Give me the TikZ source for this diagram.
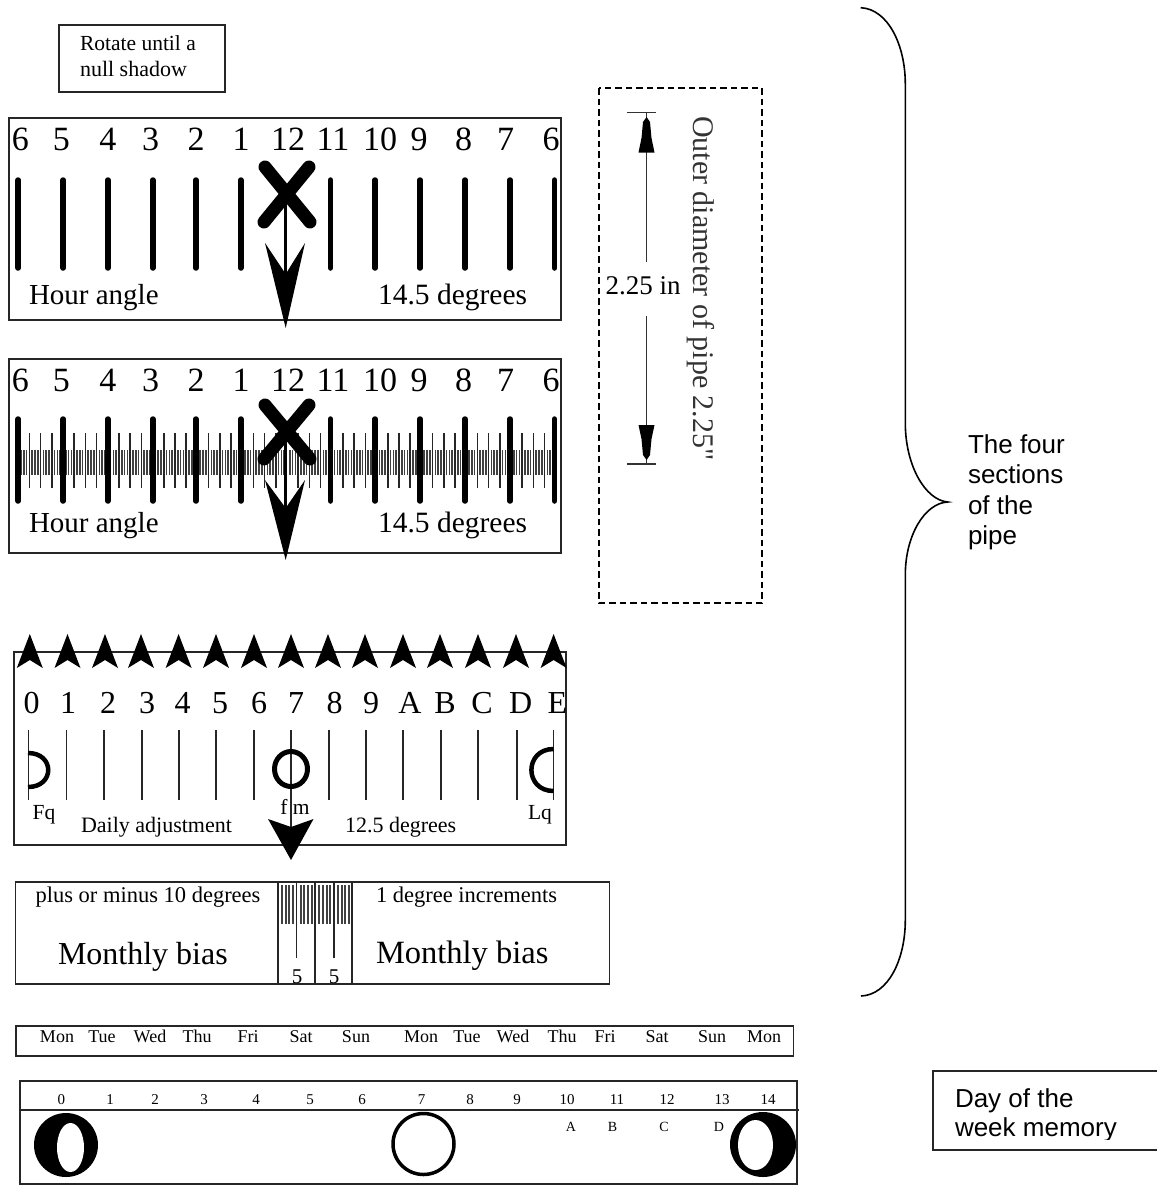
\documentclass[tikz,border=0pt]{standalone}
\usepackage{fontspec}
\setmainfont{Liberation Serif}
\newfontfamily\arialf{Liberation Sans}
\newfontfamily\rawserif{Liberation Serif}
\newcommand{\fz}[1]{\fontsize{#1}{#1}\selectfont}
\tikzset{
  txt/.style={inner sep=0pt,outer sep=0pt,anchor=base},
  ltxt/.style={inner sep=0pt,outer sep=0pt,anchor=base west},
  frame/.style={draw=black!85,line width=1.5pt},
  major/.style={draw=black,line width=5.5pt,line cap=round},
  medium/.style={draw=black!85,line width=1.5pt},
  small/.style={draw=black!75,line width=1.5pt},
  thin tick/.style={draw=black!85,line width=1.4pt},
  solid mark/.style={fill=black,draw=none},
  cross/.style={draw=black,line width=13pt,line cap=round},
  shaft/.style={draw=black,line width=2.5pt},
  moonline/.style={draw=black,line width=4.5pt},
}
\begin{document}
\begin{tikzpicture}[x=1pt,y=-1pt]
\useasboundingbox (0,0) rectangle (1157,1186);
% note box
\draw[frame,line width=1.2pt] (59,25) rectangle (225,92);
\node[ltxt] (rot1) at (80,50) {\fz{21.5}Rotate until a};
\node[ltxt] (rot2) at (80,76) {\fz{22}null shadow};
% hour scale 1
\draw[frame] (9,118) rectangle (561,320);
\foreach \x in {18.2,63.2,107.8,152.8,195.9,240.9,330.5,375,420,465,510,554.6}
  \draw[major] (\x,180) -- (\x,268);
\foreach \x/\t [count=\i] in {20.4/6,61.3/5,107.8/4,150.6/3,196/2,241/1,288/12,333/11,380/10,419/9,463.6/8,505.6/7,551/6}
  \node[txt] (ha\i) at (\x,150) {\fz{34}\t};
\node[ltxt] (hal) at (29,304) {\fz{29}Hour angle};
\node[ltxt] (had) at (378,304) {\fz{29.5}14.5 degrees};
\draw[cross] (265,167) -- (310,222);
\draw[cross] (309,167) -- (264,222);
\draw[shaft] (285.5,200) -- (285.5,300);
\path[solid mark] (265,243) -- (285.7,328) -- (305,243) -- (285.7,274) -- cycle;
% hour scale 2
\draw[frame] (9,359) rectangle (561,553);
\foreach \i in {0,...,191}{
  \pgfmathsetmacro{\xx}{18.2+2.8*\i}
  \pgfmathtruncatemacro{\m}{mod(\i,4)}
  \pgfmathtruncatemacro{\h}{mod(\i,16)}
  \ifnum\h=0\relax\else
    \ifnum\m=0\relax
      \draw[medium] (\xx,433) -- (\xx,488);
    \else
      \draw[small] (\xx,450) -- (\xx,475);
    \fi
  \fi
}
\foreach \x in {18.2,63.2,107.8,152.8,195.9,240.9,330.5,375,420,465,510,554.6}
  \draw[major] (\x,419) -- (\x,501);
\foreach \x/\t [count=\i] in {20.4/6,61.3/5,107.8/4,150.6/3,196/2,241/1,288/12,333/11,380/10,419/9,463.6/8,505.6/7,551/6}
  \node[txt] (hb\i) at (\x,391) {\fz{34}\t};
\node[ltxt] (hbl) at (29,532) {\fz{29}Hour angle};
\node[ltxt] (hbd) at (378,532) {\fz{29.5}14.5 degrees};
\draw[cross] (265,405) -- (310,459);
\draw[cross] (309,405) -- (264,459);
\draw[shaft] (285.5,440) -- (285.5,530);
\path[solid mark] (265,480) -- (285.7,560) -- (305,480) -- (285.7,508) -- cycle;
% outer diameter box
\draw[black,line width=1.6pt,dash pattern=on 6.5pt off 4pt] (599,88) rectangle (762,603);
\coordinate (dimtop) at (646.6,112.7);
\coordinate (dimbot) at (646.6,464);
\node[txt] (dimlab) at (643,294.5) {\fz{27}2.25 in};
\node[ltxt,rotate=-90,text=black!80] (dimtxt) at (693,116) {\rawserif\fz{30}Outer diameter of pipe 2.25"};
\draw[black!80,line width=1.3pt] (627,112.7) -- (656,112.7);
\draw[black!80,line width=1.3pt] (627,464) -- (656,464);
\draw[black!80,line width=1.3pt] (dimtop) -- (646.6,262.4);
\draw[black!80,line width=1.3pt] (646.6,315.5) -- (dimbot);
\path[solid mark] (646.6,117) -- (650,122) -- (651.5,138) -- (654.5,152.5) -- (638.5,152.5) -- (641.5,138) -- (643,122) -- cycle;
\path[solid mark] (646.6,460) -- (650,455) -- (651.5,439) -- (654.5,425) -- (638.5,425) -- (641.5,439) -- (643,455) -- cycle;
% daily adjustment
\draw[frame] (14,652) rectangle (566,845);
\foreach \x in {29.8,67.5,105,141,178.6,216,254,291,328,365,403,440,478,516,553.6}
  \path[solid mark] (\x,634) -- (\x+13,668) -- (\x,660) -- (\x-13,668) -- cycle;
\foreach \x/\t [count=\i] in {31.7/0,68/1,108/2,147/3,182.5/4,220/5,259/6,296/7,334.5/8,371/9,410/A,445/B,482/C,520.6/D,557.5/E}
  \node[txt] (da\i) at (\x,713) {\fz{32}\t};
\foreach \x in {28.6,66.7,104,142,179,216,254,291,329,366,403,441,478,517,553.6}
  \draw[thin tick] (\x,730) -- (\x,800);
\draw[moonline] (28,753) .. controls (55,753) and (55,787) .. (28,787);
\draw[moonline] (553.6,749) .. controls (524,749) and (524,791) .. (553.6,791);
\draw[draw=black,line width=5pt] (291,769) ellipse [x radius=16.5,y radius=17.5];
\node[txt] (fq) at (44,819) {\fz{21.5}Fq};
\node[txt] (fm) at (295,814) {\fz{21.5}f m};
\node[txt] (lq) at (540,819) {\fz{21.5}Lq};
\node[ltxt] (dadj) at (81,832) {\fz{22}Daily adjustment};
\node[ltxt] (ddeg) at (345,832) {\fz{22}12.5 degrees};
\draw[thin tick] (291,800) -- (291,830);
\path[solid mark] (268,819) -- (291,860) -- (313.5,819) -- (291,827) -- cycle;
% monthly bias
\draw[frame] (15.5,882) rectangle (609.5,984);
\draw[thin tick] (278,882) -- (278,984);
\draw[thin tick] (315,882) -- (315,984);
\draw[thin tick] (352,882) -- (352,984);
\draw[thin tick] (296.7,882) -- (296.7,958);
\draw[thin tick] (334,882) -- (334,958);
\foreach \x in {281.7,285.7,289.3,293,300.7,304.3,308.3,312.3,319,322.7,326.7,330.3,337.7,341.7,345.3,349}
  \draw[small,line width=2pt] (\x,885) -- (\x,924);
\node[txt] (m5a) at (297,983) {\fz{21}5};
\node[txt] (m5b) at (334,983) {\fz{21}5};
\node[ltxt] (pm) at (35.5,902) {\fz{22.5}plus or minus 10 degrees};
\node[ltxt] (inc) at (376,902) {\fz{22.5}1 degree increments};
\node[ltxt] (mba) at (58,964) {\fz{32}Monthly bias};
\node[ltxt] (mbb) at (376,963) {\fz{32.5}Monthly bias};
% week days
\draw[frame] (16,1026) rectangle (793.5,1056);
\foreach \x/\t [count=\i] in {57/Mon,102/Tue,150/Wed,197/Thu,248/Fri,301/Sat,356/Sun,421/Mon,467/Tue,513/Wed,562/Thu,605/Fri,657/Sat,712/Sun,764/Mon}
  \node[txt] (wd\i) at (\x,1042) {\fz{18}\t};
% moons
\draw[frame] (20,1081) rectangle (797,1184);
\draw[frame] (20,1110) -- (799,1110);
\foreach \x/\t [count=\i] in {61.4/0,110/1,155/2,204/3,256/4,310/5,362/6,421.5/7,470/8,517/9,567/10,617/11,667/12,722/13,768/14}
  \node[txt] (mn\i) at (\x,1104) {\fz{15}\t};
\foreach \x/\t [count=\i] in {571/A,612.6/B,664/C,719/D}
  \node[txt] (ml\i) at (\x,1131) {\fz{14}\t};
\fill[black] (66,1145) ellipse [x radius=32,y radius=32];
\fill[white] (70.5,1147.5) ellipse [x radius=13.5,y radius=24.5];
\draw[draw=black,line width=3.5pt] (423.5,1144) ellipse [x radius=30.5,y radius=30.5];
\fill[black] (763,1144.5) ellipse [x radius=33,y radius=32.5];
\fill[white] (755.5,1145) ellipse [x radius=17.5,y radius=25];
% brace
\draw[black,line width=1.6pt] (860.7,7.7) .. controls (888,9) and (905.3,45) .. (905.3,84) -- (905.3,423) .. controls (905.3,465) and (925,500) .. (947.7,502) .. controls (925,503) and (905.3,535) .. (905.3,575) -- (905.3,920) .. controls (905.3,960) and (888,995) .. (861,996);
\node[ltxt] (br1) at (968,453) {\arialf\fz{26}The four};
\node[ltxt] (br2) at (968,483.5) {\arialf\fz{26}sections};
\node[ltxt] (br3) at (968,514) {\arialf\fz{26}of the};
\node[ltxt] (br4) at (968,544.5) {\arialf\fz{26}pipe};
% day box
\draw[frame] (1157,1071) -- (933,1071) -- (933,1150) -- (1157,1150);
\node[ltxt] (dw1) at (955,1107) {\arialf\fz{26}Day of the};
\begin{scope}
\clip (940,1110) rectangle (1157,1139);
\node[ltxt] (dw2) at (955,1136) {\arialf\fz{26}week memory};
\end{scope}
\end{tikzpicture}
\end{document}
